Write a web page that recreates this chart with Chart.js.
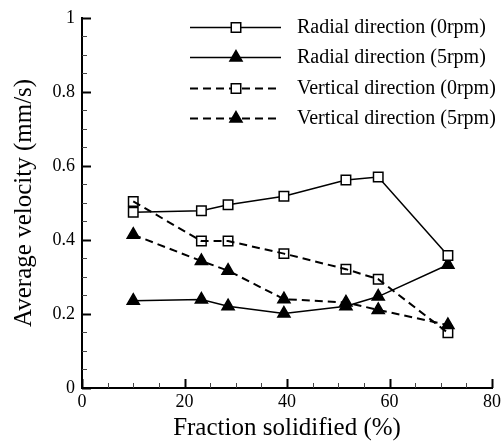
<!DOCTYPE html>
<html><head><meta charset="utf-8">
<script src="https://cdn.jsdelivr.net/npm/chart.js@4/dist/chart.umd.min.js"></script>
<style>html,body{margin:0;padding:0;background:#fff;}#wrap{width:504px;height:447px;}</style>
</head><body><div id="wrap"><canvas id="c" width="504" height="447"></canvas></div>
<script>
// ---- data ----
const fractionSolidified = [10, 23.3, 28.5, 39.4, 51.5, 57.8, 71.4];
const radial0rpm   = [0.475, 0.479, 0.495, 0.518, 0.562, 0.570, 0.358];
const radial5rpm   = [0.236, 0.239, 0.221, 0.201, 0.221, 0.247, 0.333];
const vertical0rpm = [0.504, 0.397, 0.397, 0.363, 0.321, 0.294, 0.149];
const vertical5rpm = [0.414, 0.343, 0.317, 0.240, 0.231, 0.211, 0.170];
const seriesLabels = ['Radial direction (0rpm)', 'Radial direction (5rpm)', 'Vertical direction (0rpm)', 'Vertical direction (5rpm)'];
const xTitle = 'Fraction solidified (%)';
const yTitle = 'Average velocity (mm/s)';
const xRange = [0, 80], xMajor = 20, xMinor = 5;
const yRange = [0, 1], yMajor = 0.2, yMinor = 0.05;

const FONT = "'Liberation Serif', 'Times New Roman', serif";
const pts = arr => fractionSolidified.map((x, i) => ({x, y: arr[i]}));

function mk(label, arr, dashed, style) {
  return {
    label, data: pts(arr),
    borderColor: '#000', borderWidth: dashed ? 2 : 1.5,
    borderDash: dashed ? [8, 5] : [],
    pointStyle: style,
    pointRadius: style === 'rect' ? 6.7 : 7,
    pointHoverRadius: style === 'rect' ? 6.7 : 7,
    pointBorderWidth: 1.5,
    pointBorderColor: '#000',
    pointBackgroundColor: style === 'rect' ? (dashed ? 'rgba(0,0,0,0)' : '#fff') : '#000',
    tension: 0, fill: false
  };
}

const tickPlugin = {
  id: 'inTicks',
  afterDraw(chart) {
    const {ctx, scales: {x, y}, chartArea: a} = chart;
    ctx.save();
    const nx = Math.round((xRange[1] - xRange[0]) / xMinor);
    for (let i = 0; i <= nx; i++) {
      const v = xRange[0] + i * xMinor;
      const major = Math.abs(v / xMajor - Math.round(v / xMajor)) < 1e-6;
      const px = Math.round(x.getPixelForValue(v)) + 0.5;
      ctx.lineWidth = major ? 2 : 1;
      ctx.strokeStyle = major ? '#000' : '#444';
      ctx.beginPath(); ctx.moveTo(px, a.bottom); ctx.lineTo(px, a.bottom - (major ? 9 : 5)); ctx.stroke();
    }
    const ny = Math.round((yRange[1] - yRange[0]) / yMinor);
    for (let i = 0; i <= ny; i++) {
      const v = yRange[0] + i * yMinor;
      const major = Math.abs(v / yMajor - Math.round(v / yMajor)) < 1e-6;
      const py = Math.round(y.getPixelForValue(v)) + 0.5;
      ctx.lineWidth = major ? 2 : 1;
      ctx.strokeStyle = major ? '#000' : '#444';
      ctx.beginPath(); ctx.moveTo(a.left, py); ctx.lineTo(a.left + (major ? 9 : 5), py); ctx.stroke();
    }
    ctx.restore();
  }
};

const legendPlugin = {
  id: 'customLegend',
  afterDraw(chart) {
    const ctx = chart.ctx;
    const x0 = 190, x1 = 281, xm = 236, xt = 297, yStart = 27, dy = 30.3;
    ctx.save();
    chart.data.datasets.forEach((ds, i) => {
      const yy = Math.round(yStart + i * dy) + 0.5;
      ctx.strokeStyle = '#000';
      ctx.lineWidth = ds.borderWidth;
      ctx.setLineDash(ds.borderDash || []);
      ctx.beginPath(); ctx.moveTo(x0, yy); ctx.lineTo(x1, yy); ctx.stroke();
      ctx.setLineDash([]);
      const opts = {pointStyle: ds.pointStyle, radius: ds.pointRadius, borderWidth: ds.pointBorderWidth, rotation: 0};
      ctx.fillStyle = ds.pointStyle === 'rect' ? '#fff' : '#000';
      ctx.strokeStyle = '#000';
      ctx.lineWidth = ds.pointBorderWidth;
      if (Chart.helpers && Chart.helpers.drawPoint) {
        Chart.helpers.drawPoint(ctx, opts, xm, yy);
      }
      ctx.fillStyle = '#000';
      ctx.font = '20px ' + FONT;
      ctx.textAlign = 'left';
      ctx.textBaseline = 'middle';
      ctx.fillText(ds.label, xt, yy);
    });
    ctx.restore();
  }
};

new Chart(document.getElementById('c'), {
  type: 'line',
  data: {
    datasets: [
      mk(seriesLabels[0], radial0rpm, false, 'rect'),
      mk(seriesLabels[1], radial5rpm, false, 'triangle'),
      mk(seriesLabels[2], vertical0rpm, true, 'rect'),
      mk(seriesLabels[3], vertical5rpm, true, 'triangle')
    ]
  },
  options: {
    responsive: false, animation: false, devicePixelRatio: 1,
    layout: {padding: {top: 13, right: 11, bottom: 0, left: 0}},
    plugins: {legend: {display: false}, tooltip: {enabled: false}},
    scales: {
      x: {
        type: 'linear', position: 'bottom', min: xRange[0], max: xRange[1],
        afterFit(s) { s.height = 59; },
        grid: {display: false, drawTicks: false},
        border: {display: true, color: '#000', width: 2},
        ticks: {stepSize: xMajor, color: '#000', padding: 3, maxRotation: 0, font: {family: FONT, size: 18},
                callback: v => String(Number(v.toFixed(1)))},
        title: {display: true, text: xTitle, color: '#000', font: {family: FONT, size: 25}, padding: {top: 0, bottom: 4}}
      },
      y: {
        type: 'linear', position: 'left', min: yRange[0], max: yRange[1],
        afterFit(s) { s.width = 82; },
        grid: {display: false, drawTicks: false},
        border: {display: true, color: '#000', width: 2},
        ticks: {stepSize: yMajor, color: '#000', padding: 7, font: {family: FONT, size: 18},
                callback: v => String(Number(v.toFixed(2)))},
        title: {display: true, text: yTitle, color: '#000', font: {family: FONT, size: 25}, padding: {top: 9, bottom: 0}}
      }
    }
  },
  plugins: [tickPlugin, legendPlugin]
});
</script>
</body></html>
